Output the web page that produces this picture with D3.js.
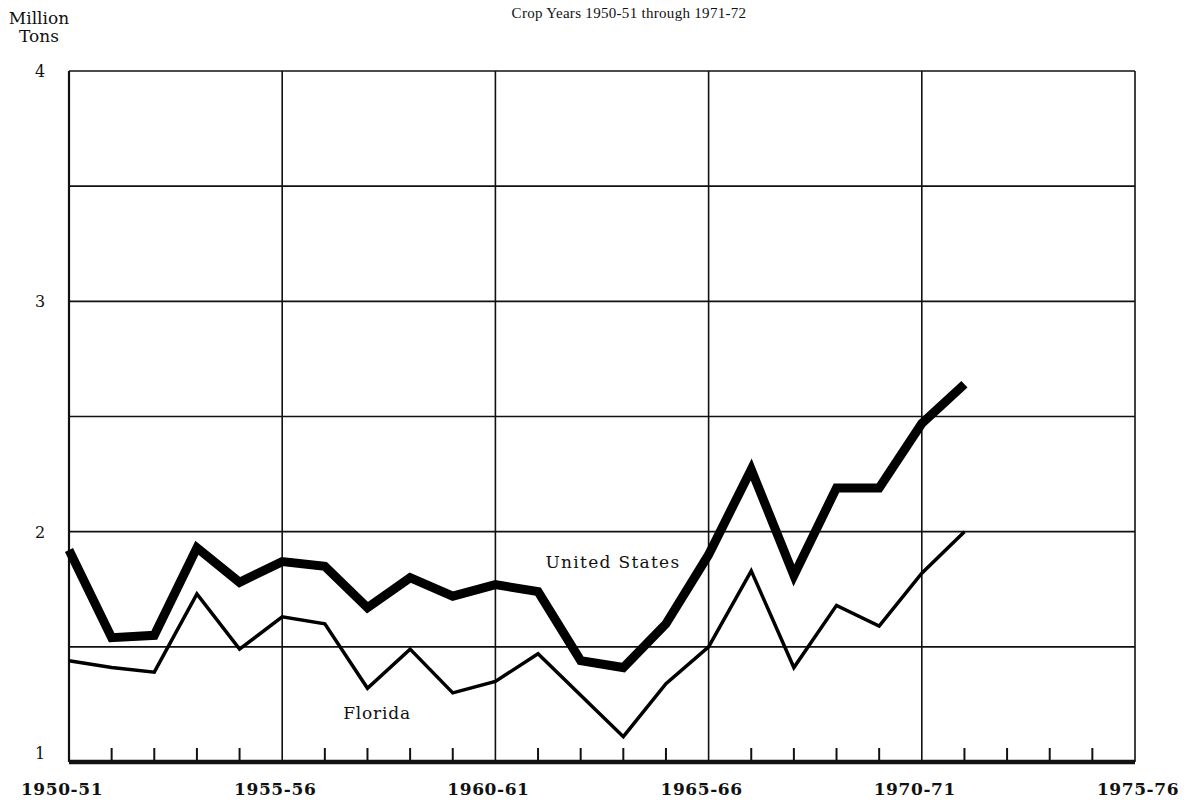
<!DOCTYPE html>
<html><head><meta charset="utf-8">
<script src="https://cdn.jsdelivr.net/npm/d3@7"></script>
<style>
body{margin:0;background:#fff;}
text{font-family:"DejaVu Serif","Liberation Serif",serif;fill:#111;}
</style></head>
<body><svg id="c" width="1189" height="803"></svg>
<script>
const years = d3.range(1950, 1972);
const usValues = [1.92,1.54,1.55,1.93,1.78,1.87,1.85,1.67,1.80,1.72,1.77,1.74,1.44,1.41,1.60,1.90,2.27,1.81,2.19,2.19,2.47,2.64];
const flValues = [1.44,1.41,1.39,1.73,1.49,1.63,1.60,1.32,1.49,1.30,1.35,1.47,1.29,1.11,1.34,1.50,1.83,1.41,1.68,1.59,1.82,2.00];
const yTicks = [1,2,3,4];
const yGrid = [1.5,2,2.5,3,3.5,4];
const xLabelYears = [1950,1955,1960,1965,1970,1975];
const xLabels = ["1950-51","1955-56","1960-61","1965-66","1970-71","1975-76"];
const title = "Crop Years 1950-51 through 1971-72";

const svg = d3.select("#c");
const L=69, R=1135, T=71, B=762;
const x = d3.scaleLinear().domain([1950,1975]).range([L,R]);
const y = d3.scaleLinear().domain([1,4]).range([B,T]);

// horizontal grid
svg.append("g").selectAll("line").data(yGrid).join("line")
  .attr("x1",L).attr("x2",R).attr("y1",d=>y(d)).attr("y2",d=>y(d))
  .attr("stroke","#111").attr("stroke-width",1.6);
// vertical grid
svg.append("g").selectAll("line").data(xLabelYears).join("line")
  .attr("x1",d=>x(d)).attr("x2",d=>x(d)).attr("y1",T).attr("y2",B)
  .attr("stroke","#111").attr("stroke-width",d=>d===1950?2.2:1.6);

// bottom axis with minor ticks
const minor = d3.range(1951,1975).filter(d=>d%5!==0);
svg.append("g").selectAll("line").data(minor).join("line")
  .attr("x1",d=>x(d)).attr("x2",d=>x(d)).attr("y1",B-14).attr("y2",B)
  .attr("stroke","#111").attr("stroke-width",2);
svg.append("line").attr("x1",L).attr("x2",R).attr("y1",B).attr("y2",B)
  .attr("stroke","#111").attr("stroke-width",4.5);

// y labels
svg.append("g").selectAll("text").data(yTicks).join("text")
  .attr("x",40).attr("y",d=>y(d)+(d===1?-3:6)).attr("text-anchor","middle")
  .attr("font-size",16).text(d=>d);
// x labels
svg.append("g").selectAll("text").data(xLabelYears).join("text")
  .attr("x",(d)=>x(d)+(d===1975?3:-7)).attr("y",795).attr("text-anchor","middle")
  .attr("font-size",17).attr("font-weight","bold").attr("letter-spacing",0.6).text((d,i)=>xLabels[i]);

// axis title
svg.append("text").attr("x",39).attr("y",24).attr("text-anchor","middle").attr("font-size",17).text("Million");
svg.append("text").attr("x",39).attr("y",42).attr("text-anchor","middle").attr("font-size",17).text("Tons");
svg.append("text").attr("x",629).attr("y",18).attr("text-anchor","middle")
  .style("font-family","'Liberation Serif',serif").attr("font-size",15).attr("letter-spacing",0.3).text(title);

const line = d3.line().x((d,i)=>x(years[i])).y(d=>y(d));
svg.append("path").datum(flValues).attr("d",line).attr("fill","none")
  .attr("stroke","#000").attr("stroke-width",3.5).attr("stroke-linejoin","miter");
svg.append("path").datum(usValues).attr("d",line).attr("fill","none")
  .attr("stroke","#000").attr("stroke-width",9).attr("stroke-linejoin","miter");

svg.append("text").attr("x",613).attr("y",568).attr("text-anchor","middle").attr("font-size",17).attr("letter-spacing",1.3).text("United States");
svg.append("text").attr("x",377).attr("y",719).attr("text-anchor","middle").attr("font-size",17).attr("letter-spacing",0.8).text("Florida");
</script></body></html>
